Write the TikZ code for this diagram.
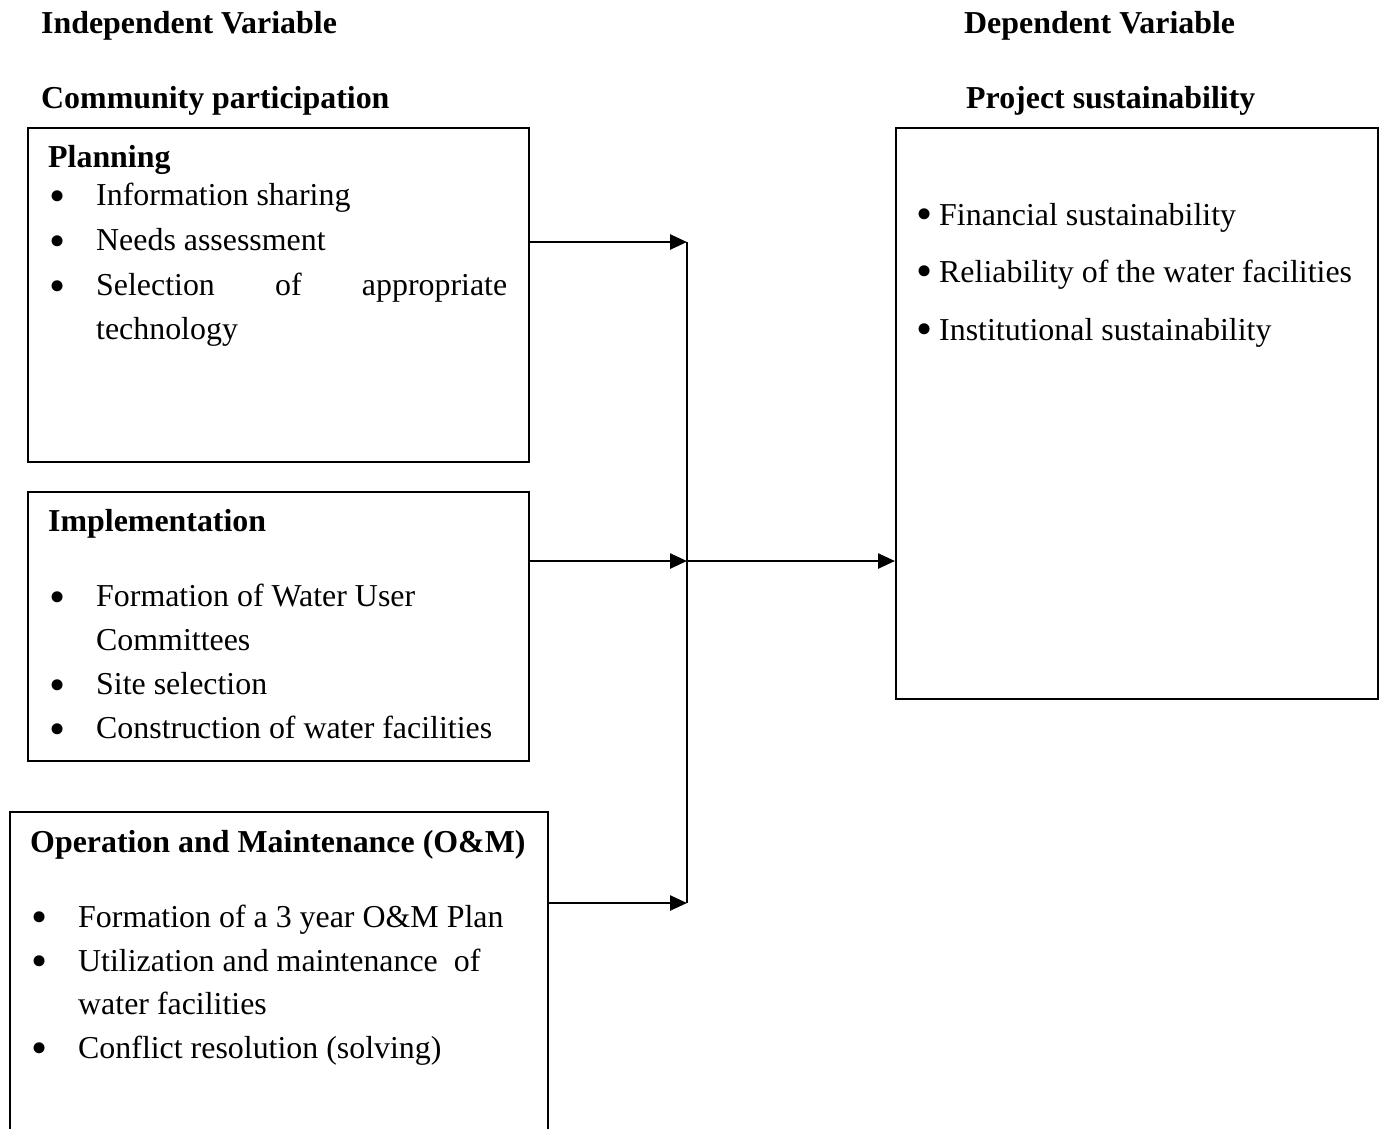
\documentclass[tikz,border=0pt]{standalone}
\usepackage{fontspec}
\setmainfont{Liberation Serif}
\usetikzlibrary{arrows.meta}
\tikzset{
  txt/.style={anchor=base west, inner sep=0pt, font=\fontsize{31.9}{38}\selectfont},
  hd/.style={txt, font=\fontsize{31.9}{38}\selectfont\bfseries},
  bul/.style={anchor=center, inner sep=0pt, xshift=3pt, yshift=-4pt, font=\fontsize{46}{50}\selectfont},
  box/.style={draw, line width=2pt, anchor=north west, inner sep=0pt},
  conn/.style={line width=2.6pt, -{Triangle[length=17pt,width=15pt]}},
  plain/.style={line width=2.2pt}
}
\begin{document}
\begin{tikzpicture}[x=1pt,y=-1pt]
\useasboundingbox (0,0) rectangle (1381,1128);
% headings
\node[hd] (iv) at (41,33) {Independent Variable};
\node[hd] (dv) at (964,33) {Dependent Variable};
\node[hd] (cp) at (41,108) {Community participation};
\node[hd] (ps) at (966,108) {Project sustainability};
% boxes
\node[box, minimum width=501pt, minimum height=334pt] (plan) at (27,127) {};
\node[box, minimum width=501pt, minimum height=269pt] (impl) at (27,491) {};
\node[draw=none, anchor=north west, inner sep=0pt, minimum width=538pt, minimum height=330pt] (om) at (10,812) {};
\draw[line width=2pt] (om.south west) -- (om.north west) -- (om.north east) -- (om.south east);
\node[box, minimum width=482pt, minimum height=571pt] (ps box) at (895,127) {};
% planning
\node[hd] (plh) at (48,167) {Planning};
\node[bul] (pb1) at (55,197) {\textbullet};
\node[txt] (p1) at (96,205) {Information sharing};
\node[bul] (pb2) at (55,242) {\textbullet};
\node[txt] (p2) at (96,250) {Needs assessment};
\node[bul] (pb3) at (55,287) {\textbullet};
\node[txt, text width=411pt] (p3) at (96,295) {Selection\hfill of\hfill appropriate};
\node[txt] (p4) at (96,339) {technology};
% implementation
\node[hd] (imh) at (48,531) {Implementation};
\node[bul] (ib1) at (55,598) {\textbullet};
\node[txt] (i1) at (96,606) {Formation of Water User};
\node[txt] (i2) at (96,650) {Committees};
\node[bul] (ib2) at (55,686) {\textbullet};
\node[txt] (i3) at (96,694) {Site selection};
\node[bul] (ib3) at (55,730) {\textbullet};
\node[txt] (i4) at (96,738) {Construction of water facilities};
% O&M
\node[hd] (omh) at (30,852) {Operation and Maintenance (O\&M)};
\node[bul] (ob1) at (37,918) {\textbullet};
\node[txt] (o1) at (78,927) {Formation of a 3 year O\&M Plan};
\node[bul] (ob2) at (37,962) {\textbullet};
\node[txt] (o2) at (78,971) {Utilization and maintenance\ \ of};
\node[txt] (o3) at (78,1014) {water facilities};
\node[bul] (ob3) at (37,1049) {\textbullet};
\node[txt] (o4) at (78,1058) {Conflict resolution (solving)};
% right box
\node[bul] (rb1) at (922,215) {\textbullet};
\node[txt] (r1) at (939,225) {Financial sustainability};
\node[bul] (rb2) at (922,272) {\textbullet};
\node[txt] (r2) at (939,282) {Reliability of the water facilities};
\node[bul] (rb3) at (922,330) {\textbullet};
\node[txt] (r3) at (939,340) {Institutional sustainability};
% connectors
\coordinate (j1) at (687,242);
\coordinate (j2) at (687,561);
\coordinate (j3) at (687,903);
\draw[conn] (plan.east |- j1) -- (j1);
\draw[conn] (impl.east |- j2) -- (j2);
\draw[conn] (om.east |- j3) -- (j3);
\draw[plain] (j1) -- (j3);
\draw[conn] (j2) -- (ps box.west |- j2);
\end{tikzpicture}
\end{document}
